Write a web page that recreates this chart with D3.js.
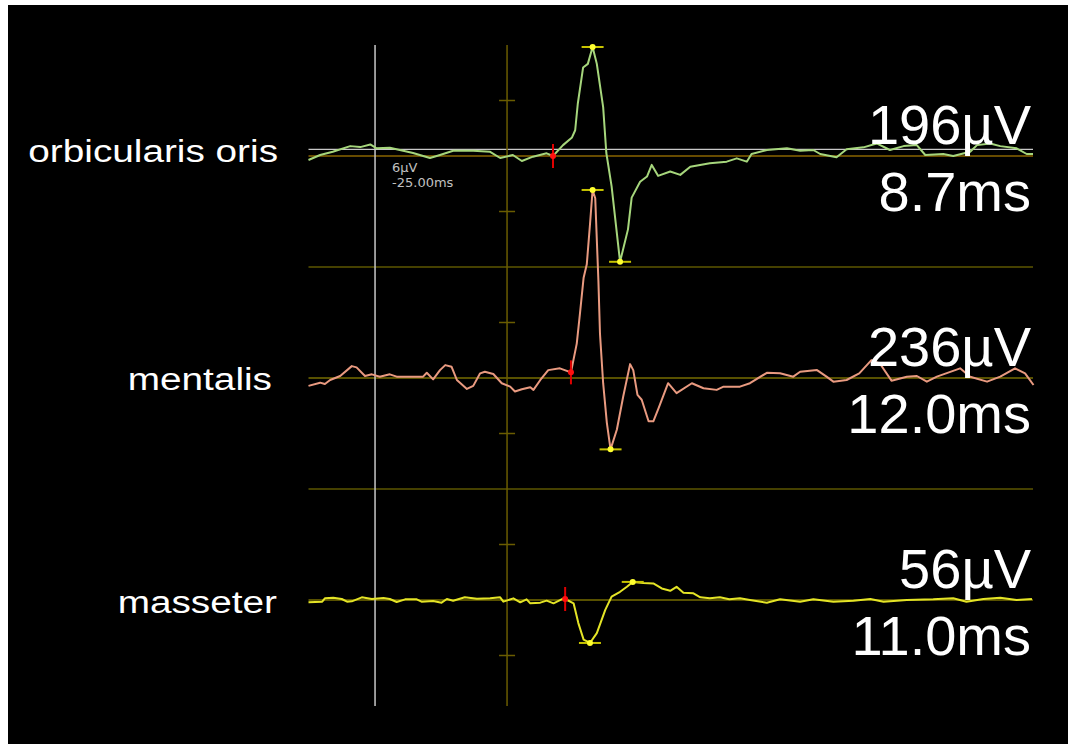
<!DOCTYPE html>
<html>
<head>
<title>Blink reflex responses</title>
<script src='https://d3js.org/d3.v7.min.js'></script>
<style>
body {margin:0; background-color:#fff;}
svg {display:block;}
</style>
</head>
<body>
<svg width=1068 height=744></svg>

<script>
// channels and the numbers printed next to them
var channels = ['orbicularis oris','mentalis','masseter']
var ampLabels = ['196µV','236µV','56µV']
var latLabels = ['8.7ms','12.0ms','11.0ms']

// traces, time in ms (0 = stimulus), amplitude in µV
var orbTime = [-37.6,-35.4,-33.0,-29.7,-27.8,-25.9,-24.7,-22.2,-20.3,-17.8,-14.6,-12.7,-10.2,-6.4,-3.2,-1.3,1.1,2.8,4.9,7.5,8.7,10.6,12.3,12.9,13.4,14.4,15.3,16.2,17.0,18.2,18.8,19.8,21.4,22.9,23.6,25.2,26.5,27.4,28.6,30.9,32.8,34.7,38.4,41.6,43.5,45.4,46.3,49.2,53.0,55.5,58.0,59.3,62.4,64.3,67.5,70.0,72.5,75.1,77.6,79.2,82.6,84.5,87.7,89.0,91.5,93.4,96.5,98.4,99.6]
var orbAmp = [-3.6,0.9,3.8,8.9,8.0,10.4,6.9,7.4,5.4,2.7,-1.8,0.9,4.7,4.7,3.8,-1.8,0.9,-4.5,-0.6,2.4,0,9.8,16.7,23.2,47.3,79.7,83.0,98.2,83.0,44.0,2.7,-27.4,-95.3,-66.1,-37.5,-23.2,-18.5,-8.0,-17.9,-14.0,-17.0,-9.6,-6.5,-5.1,-2.1,-5.1,1.8,5.4,6.9,4.7,5.4,1.8,-1.2,6.0,7.8,11.3,5.4,8.9,9.8,0.9,1.8,0,3.8,9.8,11.3,8.9,6.9,1.8,1.8]

var mentTime = [-37.6,-35.4,-34.5,-33.5,-31.6,-29.4,-28.5,-26.9,-25.6,-24.1,-22.2,-20.9,-18.4,-15.9,-15.2,-14.0,-12.7,-11.7,-10.5,-9.5,-7.6,-6.4,-5.1,-4.2,-2.6,-1.0,0.6,1.5,2.8,4.4,5.0,6.3,7.8,10.0,12.1,13.2,13.8,14.5,15.1,15.7,16.2,16.7,17.3,17.6,18.2,18.9,19.6,20.8,22.0,23.3,23.9,24.7,25.5,26.8,27.7,28.7,30.5,32.1,35.0,37.2,39.7,41.0,44.1,46.0,49.2,51.7,54.2,55.5,58.7,60.5,61.8,64.3,66.7,69.0,70.6,72.8,75.7,77.6,79.5,81.4,85.8,87.7,90.9,93.4,96.2,98.1,99.7]
var mentAmp = [-7.1,-4.2,-5.4,-1.8,1.8,10.7,9.6,1.8,3.3,1.2,3.3,1.2,1.2,1.2,4.7,-1.2,7.1,11.6,10.1,-1.8,-9.8,-7.1,4.2,5.6,3.6,-4.7,-7.8,-12.2,-10.1,-8.3,-10.7,-1.8,7.1,8.7,5.1,31.0,57.8,90.4,102.4,138.1,169.4,161.9,87.5,39.9,-4.7,-40.4,-64.3,-46.4,-16.7,12.5,7.1,-15.2,-19.6,-39.0,-39.0,-27.1,-4.7,-13.7,-4.7,-9.2,-10.7,-7.8,-7.8,-4.7,4.7,4.2,1.2,5.6,7.1,1.2,-3.3,-1.8,4.2,16.1,13.1,-2.4,1.2,1.8,-3.3,1.2,8.7,1.2,-3.3,1.2,8.7,4.2,-6.3]

var massTime = [-37.6,-35.0,-34.5,-32.9,-31.3,-30.3,-29.4,-27.5,-25.6,-23.4,-22.2,-20.9,-19.3,-17.1,-16.2,-14.0,-12.4,-11.4,-10.2,-8.0,-5.7,-3.2,-1.3,-0.7,1.2,2.5,3.7,4.4,6.3,7.5,8.8,10.7,11.0,12.6,13.5,14.5,15.7,17.0,18.6,19.8,21.4,22.7,23.8,25.8,27.7,29.3,30.9,32.1,33.4,35.3,36.6,38.4,40.3,42.1,44.1,46.0,49.2,51.7,55.5,58.0,61.8,65.6,68.8,71.3,75.7,80.7,84.5,87.0,90.2,93.4,96.5,99.4]
var massAmp = [-2.1,-1.5,1.5,2.1,0.9,-1.5,-1.2,2.4,0.9,1.8,0.9,-1.8,0.6,0.6,-1.5,-0.9,-2.4,0.9,-0.6,2.4,1.2,1.5,2.4,-1.5,1.5,-2.1,0.6,-3.0,-2.4,-0.6,-3.0,1.5,0.9,-3.0,-20.8,-35.7,-38.7,-29.8,-8.9,3.0,7.4,11.9,16.3,15.4,14.9,10.4,8.3,11.9,6.5,6.0,2.4,1.5,2.4,0.6,1.5,0,-2.4,0.6,-1.5,0.6,-1.5,-0.6,0.9,-1.5,0,0.6,1.5,-1.5,0.9,2.1,0,0.9]

// markers: onset (red), peak and trough (yellow)
var onsetTime = [8.7,12.1,11.0]
var onsetAmp = [0,5.1,0.9]
var peakTime = [16.2,16.2,23.8]
var peakAmp = [98.2,169.4,16.3]
var troughTime = [21.4,19.6,15.7]
var troughAmp = [-95.3,-64.3,-38.7]

// cursor readout
var cursorTime = -25
var cursorAmp = 6
var cursorLabels = ['6µV','-25.00ms']

var traceTimes = [orbTime,mentTime,massTime]
var traceAmps = [orbAmp,mentAmp,massAmp]
var traceColors = ['#a6d67c','#e99a80','#e4e426']
var baseColors = ['#8a6400','#766c00','#766c00']
var labelRight = [278,272,277]
var labelDy = [6,12,13]

var svg = d3.select('svg')

// black screen
svg.append('rect')
   .attr('x',8).attr('y',5)
   .attr('width',1060).attr('height',739)
   .attr('fill','#000')

//scales
var x = d3.scaleLinear().domain([-37.6,99.6]).range([308.5,1033]);
var row = d3.scaleBand().domain(channels).range([45,711]);
var amp = d3.scaleLinear().domain([-100,100]).range([row.bandwidth(),0]);
function yOf(i,v) {return row(channels[i])+amp(v);}

var x0 = x(-37.6), x1 = x(99.6)

//separators between channels
svg.selectAll('.sep')
  .data(channels.slice(1))
  .enter()
  .append('line')
    .attr('x1',x0).attr('x2',x1)
    .attr('y1',function(d) {return row(d);})
    .attr('y2',function(d) {return row(d);})
    .attr('stroke','#5c5600')
    .attr('stroke-width',1.5);

//baselines
svg.selectAll('.base')
  .data(channels)
  .enter()
  .append('line')
    .attr('x1',x0).attr('x2',x1)
    .attr('y1',function(d,i) {return yOf(i,0);})
    .attr('y2',function(d,i) {return yOf(i,0);})
    .attr('stroke',function(d,i) {return baseColors[i];})
    .attr('stroke-width',1.5);

//cursor lines
svg.append('line')
   .attr('x1',x0).attr('x2',x1)
   .attr('y1',yOf(0,cursorAmp)).attr('y2',yOf(0,cursorAmp))
   .attr('stroke','#c8c8c8').attr('stroke-width',1.2);
svg.append('line')
   .attr('x1',x(cursorTime)).attr('x2',x(cursorTime))
   .attr('y1',45).attr('y2',706)
   .attr('stroke','#c8c8c8').attr('stroke-width',1.5);

//stimulus line with ticks at +-50µV
svg.append('line')
   .attr('x1',x(0)).attr('x2',x(0))
   .attr('y1',45).attr('y2',706)
   .attr('stroke','#6a5c00').attr('stroke-width',1.5);
var ticks = []
channels.forEach(function(d,i) {ticks.push(yOf(i,50)); ticks.push(yOf(i,-50));})
svg.selectAll('.tick')
  .data(ticks)
  .enter()
  .append('line')
    .attr('x1',x(0)-8).attr('x2',x(0)+8)
    .attr('y1',function(d) {return d;})
    .attr('y2',function(d) {return d;})
    .attr('stroke','#6a5c00')
    .attr('stroke-width',1.5);

//traces
channels.forEach(function(c,i) {
  var pts = d3.zip(traceTimes[i],traceAmps[i])
  var line = d3.line()
     .x(function(d) {return x(d[0]);})
     .y(function(d) {return yOf(i,d[1]);})
  svg.append('path')
     .attr('d',line(pts))
     .attr('fill','none')
     .attr('stroke',traceColors[i])
     .attr('stroke-width',2)
     .attr('stroke-linejoin','round');
});

//peak and trough markers
channels.forEach(function(c,i) {
  [[peakTime[i],peakAmp[i]],[troughTime[i],troughAmp[i]]].forEach(function(p) {
    svg.append('line')
       .attr('x1',x(p[0])-11).attr('x2',x(p[0])+11)
       .attr('y1',yOf(i,p[1])).attr('y2',yOf(i,p[1]))
       .attr('stroke','#c8c400').attr('stroke-width',2);
    svg.append('circle')
       .attr('cx',x(p[0])).attr('cy',yOf(i,p[1]))
       .attr('r',3).attr('fill','#ffff30');
  });
  svg.append('line')
     .attr('x1',x(onsetTime[i])).attr('x2',x(onsetTime[i]))
     .attr('y1',yOf(i,onsetAmp[i])-12).attr('y2',yOf(i,onsetAmp[i])+12)
     .attr('stroke','#e00000').attr('stroke-width',2);
  svg.append('circle')
     .attr('cx',x(onsetTime[i])).attr('cy',yOf(i,onsetAmp[i]))
     .attr('r',3).attr('fill','#ff1010');
});

//cursor readout text
svg.selectAll('.readout')
  .data(cursorLabels)
  .enter()
  .append('text')
    .attr('x',x(cursorTime)+17)
    .attr('y',function(d,i) {return yOf(0,cursorAmp)+23+i*15;})
    .attr('font-family','DejaVu Sans, Verdana, sans-serif')
    .attr('font-size',13)
    .attr('fill','#c0c0c0')
    .text(function(d) {return d;});

//channel names
svg.selectAll('.name')
  .data(channels)
  .enter()
  .append('text')
    .attr('transform',function(d,i) {return 'translate('+labelRight[i]+','+(yOf(i,0)+labelDy[i])+') scale(1.25,1)';})
    .attr('text-anchor','end')
    .attr('font-family','Liberation Sans, Arial, sans-serif')
    .attr('font-size',31)
    .attr('fill','#fff')
    .text(function(d) {return d;});

//amplitude and latency values
svg.selectAll('.ampval')
  .data(ampLabels)
  .enter()
  .append('text')
    .attr('x',1031)
    .attr('y',function(d,i) {return yOf(i,0)-12;})
    .attr('text-anchor','end')
    .attr('font-family','Liberation Sans, Arial, sans-serif')
    .attr('font-size',56)
    .attr('fill','#fff')
    .text(function(d) {return d;});
svg.selectAll('.latval')
  .data(latLabels)
  .enter()
  .append('text')
    .attr('x',1031)
    .attr('y',function(d,i) {return yOf(i,0)+55;})
    .attr('text-anchor','end')
    .attr('font-family','Liberation Sans, Arial, sans-serif')
    .attr('font-size',56)
    .attr('fill','#fff')
    .text(function(d) {return d;});
</script>

</body>
</html>
